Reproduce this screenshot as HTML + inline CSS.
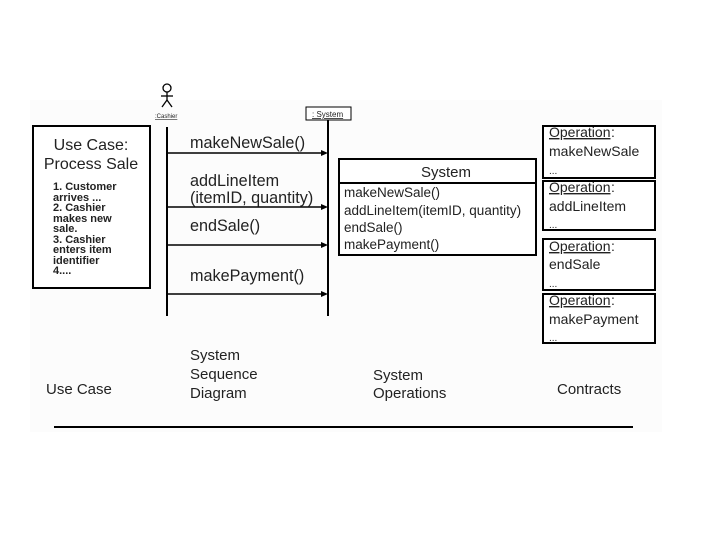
<!DOCTYPE html>
<html><head><style>
body{margin:0;background:#fff;}
svg text{font-family:"Liberation Sans",sans-serif;fill:#222;}
</style></head><body>
<svg width="720" height="540" xmlns="http://www.w3.org/2000/svg">
<rect x="30" y="100" width="632" height="332" fill="#fcfcfc"/>
<!-- actor -->
<circle cx="167" cy="88" r="4" fill="none" stroke="#000" stroke-width="1.3"/>
<line x1="167" y1="92" x2="167" y2="100" stroke="#000" stroke-width="1.3"/>
<line x1="161" y1="96" x2="173" y2="96" stroke="#000" stroke-width="1.3"/>
<line x1="167" y1="100" x2="162" y2="107" stroke="#000" stroke-width="1.3"/>
<line x1="167" y1="100" x2="172" y2="107" stroke="#000" stroke-width="1.3"/>
<text x="155" y="118" font-size="6" text-decoration="underline">:Cashier</text>
<rect x="306" y="107" width="45" height="13" fill="#fff" stroke="#000" stroke-width="1"/>
<text x="312" y="117" font-size="8" text-decoration="underline">: System</text>
<!-- lifelines -->
<line x1="167" y1="127" x2="167" y2="316" stroke="#000" stroke-width="2"/>
<line x1="328" y1="120" x2="328" y2="316" stroke="#000" stroke-width="2"/>
<g stroke="#000" stroke-width="1.5">
<line x1="167" y1="153" x2="324" y2="153"/>
<line x1="167" y1="207" x2="324" y2="207"/>
<line x1="167" y1="245" x2="324" y2="245"/>
<line x1="167" y1="294" x2="324" y2="294"/>
</g>
<g fill="#000">
<polygon points="328,153 321,150 321,156"/>
<polygon points="328,207 321,204 321,210"/>
<polygon points="328,245 321,242 321,248"/>
<polygon points="328,294 321,291 321,297"/>
</g>
<g font-size="16.2">
<text x="190" y="148">makeNewSale()</text>
<text x="190" y="186">addLineItem</text>
<text x="190" y="203">(itemID, quantity)</text>
<text x="190" y="231">endSale()</text>
<text x="190" y="281">makePayment()</text>
</g>
<!-- use case box -->
<rect x="33" y="126" width="117" height="162" fill="#fff" stroke="#000" stroke-width="2"/>
<text x="91" y="150" font-size="16" text-anchor="middle">Use Case:</text>
<text x="91" y="169" font-size="16" text-anchor="middle">Process Sale</text>
<g font-size="11" font-weight="bold" style="fill:#333">
<text x="53" y="190">1. Customer</text>
<text x="53" y="201">arrives ...</text>
<text x="53" y="211">2. Cashier</text>
<text x="53" y="222">makes new</text>
<text x="53" y="232">sale.</text>
<text x="53" y="243">3. Cashier</text>
<text x="53" y="253">enters item</text>
<text x="53" y="264">identifier</text>
<text x="53" y="274">4....</text>
</g>
<!-- system class -->
<rect x="339" y="159" width="197" height="96" fill="#fff" stroke="#000" stroke-width="2"/>
<line x1="339" y1="183" x2="536" y2="183" stroke="#000" stroke-width="2"/>
<text x="446" y="177" font-size="15" text-anchor="middle">System</text>
<g font-size="13.5">
<text x="344" y="197">makeNewSale()</text>
<text x="344" y="215">addLineItem(itemID, quantity)</text>
<text x="344" y="232">endSale()</text>
<text x="344" y="249">makePayment()</text>
</g>
<!-- contracts -->
<g fill="#fff" stroke="#000" stroke-width="2">
<rect x="543" y="126" width="112" height="52"/>
<rect x="543" y="181" width="112" height="49"/>
<rect x="543" y="239" width="112" height="51"/>
<rect x="543" y="294" width="112" height="49"/>
</g>
<g font-size="14">
<text x="549" y="137" text-decoration="underline">Operation</text><text x="611" y="137">:</text>
<text x="549" y="156">makeNewSale</text><text x="549" y="174" font-size="10">...</text>
<text x="549" y="192" text-decoration="underline">Operation</text><text x="611" y="192">:</text>
<text x="549" y="211">addLineItem</text><text x="549" y="228" font-size="10">...</text>
<text x="549" y="251" text-decoration="underline">Operation</text><text x="611" y="251">:</text>
<text x="549" y="269">endSale</text><text x="549" y="287" font-size="10">...</text>
<text x="549" y="305" text-decoration="underline">Operation</text><text x="611" y="305">:</text>
<text x="549" y="324">makePayment</text><text x="549" y="341" font-size="10">...</text>
</g>
<!-- bottom labels -->
<g font-size="15">
<text x="46" y="394">Use Case</text>
<text x="190" y="360">System</text>
<text x="190" y="379">Sequence</text>
<text x="190" y="398">Diagram</text>
<text x="373" y="380">System</text>
<text x="373" y="398">Operations</text>
<text x="557" y="394">Contracts</text>
</g>
<line x1="54" y1="427" x2="633" y2="427" stroke="#000" stroke-width="2"/>
</svg>
</body></html>
